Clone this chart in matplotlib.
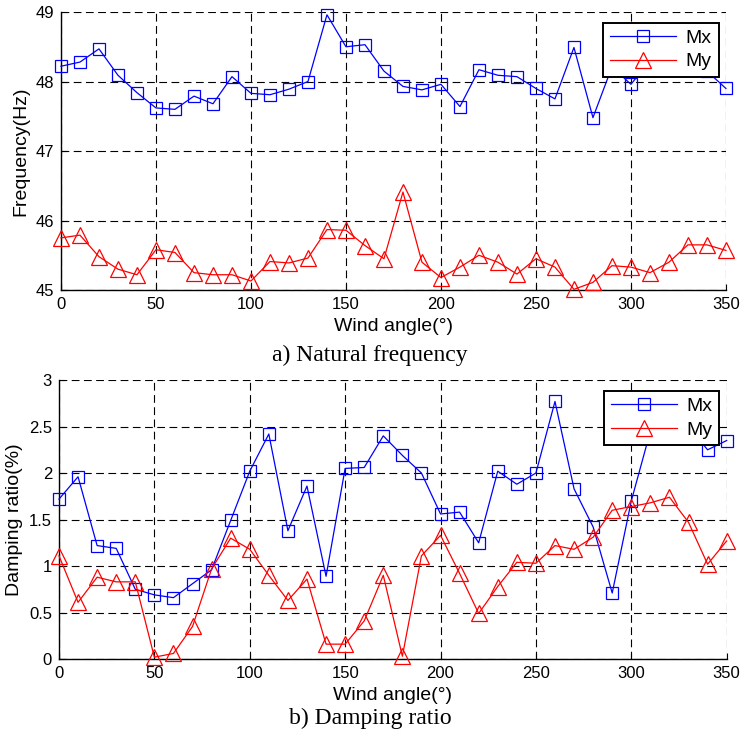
import matplotlib
matplotlib.use("Agg")
import matplotlib.pyplot as plt
import numpy as np

# wind angle (deg)
angle = np.arange(0, 360, 10)

# natural frequency (Hz)
freq_mx = [48.22, 48.28, 48.47, 48.09, 47.84, 47.62, 47.60, 47.79, 47.68, 48.07,
           47.83, 47.81, 47.89, 48.00, 48.96, 48.50, 48.53, 48.15, 47.93, 47.88,
           47.96, 47.64, 48.17, 48.09, 48.07, 47.90, 47.75, 48.49, 47.48, 48.21,
           47.96, 48.30, 48.40, 48.30, 48.15, 47.90]
freq_my = [45.75, 45.79, 45.48, 45.30, 45.22, 45.58, 45.54, 45.25, 45.22, 45.22,
           45.13, 45.41, 45.39, 45.46, 45.87, 45.86, 45.64, 45.45, 46.41, 45.40,
           45.18, 45.33, 45.50, 45.40, 45.23, 45.45, 45.33, 45.01, 45.11, 45.35,
           45.33, 45.25, 45.40, 45.65, 45.65, 45.57]

# damping ratio (%)
damp_mx = [1.72, 1.96, 1.22, 1.19, 0.75, 0.69, 0.66, 0.81, 0.96, 1.49,
           2.02, 2.42, 1.38, 1.86, 0.89, 2.05, 2.06, 2.40, 2.19, 2.00,
           1.56, 1.58, 1.25, 2.02, 1.88, 2.00, 2.77, 1.83, 1.42, 0.71,
           1.70, 2.45, 2.55, 2.50, 2.25, 2.35]
damp_my = [1.11, 0.61, 0.88, 0.83, 0.83, 0.02, 0.06, 0.35, 0.97, 1.30,
           1.18, 0.90, 0.63, 0.86, 0.16, 0.16, 0.41, 0.90, 0.03, 1.11,
           1.33, 0.92, 0.49, 0.78, 1.04, 1.03, 1.22, 1.18, 1.31, 1.60,
           1.64, 1.68, 1.74, 1.47, 1.02, 1.27]

SANS = "Liberation Sans"
SERIF = "Liberation Serif"
BLUE = "#0000FF"
RED = "#FF0000"

fig = plt.figure(figsize=(7.4, 7.38), dpi=100)
ax1 = fig.add_axes([0.0824, 0.607, 0.8986, 0.3767])
ax2 = fig.add_axes([0.0797, 0.107, 0.9023, 0.378])


def draw(ax, mx, my, ylim, yticks, ylabel):
    ax.plot(angle, mx, color=BLUE, lw=0.9, marker="s", ms=9, mfc="none",
            mec=BLUE, mew=0.9, label="Mx", clip_on=False, zorder=3)
    ax.plot(angle, my, color=RED, lw=0.9, marker="^", ms=11, mfc="none",
            mec=RED, mew=0.9, label="My", clip_on=False, zorder=3)
    ax.set_xlim(0, 350)
    ax.set_ylim(*ylim)
    ax.set_xticks(np.arange(0, 351, 50))
    ax.set_yticks(yticks)
    ax.grid(True, color="black", ls=(0, (7, 4)), lw=0.8)
    for sp in ["top", "right"]:
        ax.spines[sp].set_visible(False)
    for sp in ["left", "bottom"]:
        ax.spines[sp].set_linewidth(1.0)
    ax.tick_params(direction="in", length=4, labelsize=12, pad=5)
    for t in ax.get_xticklabels() + ax.get_yticklabels():
        t.set_fontfamily(SANS)
    ax.set_xlabel("Wind angle(°)", fontsize=14, family=SANS, labelpad=4)
    ax.set_ylabel(ylabel, fontsize=14, family=SANS, labelpad=4)
    leg = ax.legend(loc="upper right", bbox_to_anchor=(0.989, 0.962),
                    prop={"family": SANS, "size": 14}, handlelength=3.4,
                    fancybox=False, framealpha=1, edgecolor="black",
                    borderpad=0.35, labelspacing=0.3, handletextpad=0.5,
                    borderaxespad=0)
    leg.get_frame().set_linewidth(1.4)
    leg.set_zorder(5)


draw(ax1, freq_mx, freq_my, (45, 49), [45, 46, 47, 48, 49], "Frequency(Hz)")
draw(ax2, damp_mx, damp_my, (0, 3), [0, 0.5, 1, 1.5, 2, 2.5, 3], "Damping ratio(%)")
ax2.set_yticklabels(["0", "0.5", "1", "1.5", "2", "2.5", "3"], family=SANS)

fig.text(0.5, 0.519, "a) Natural frequency", ha="center", va="center",
         fontsize=17, family=SERIF)
fig.text(0.5, 0.026, "b) Damping ratio", ha="center", va="center",
         fontsize=17, family=SERIF)

fig.savefig("out.png", dpi=100)
